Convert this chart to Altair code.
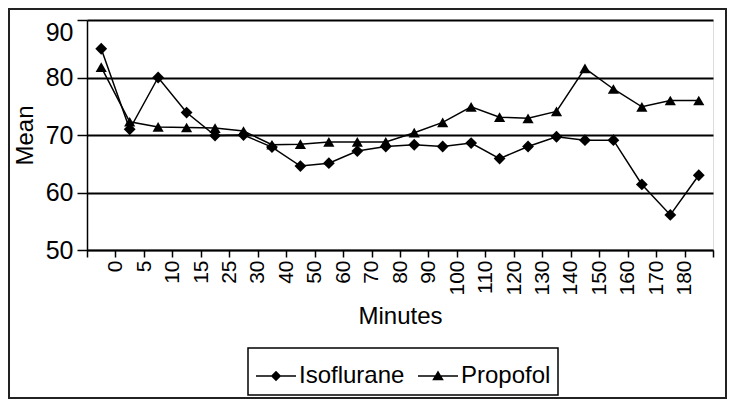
import altair as alt
import pandas as pd

# Category labels (first time point has no label in the original)
minutes = ["", "0", "5", "10", "15", "25", "30", "40", "50", "60", "70",
           "80", "90", "100", "110", "120", "130", "140", "150", "160", "170", "180"]
isoflurane = [85.0, 71.0, 80.0, 73.9, 69.9, 70.0, 67.9, 64.6, 65.1, 67.2, 68.0,
              68.3, 68.0, 68.6, 65.9, 68.0, 69.7, 69.1, 69.1, 61.4, 56.1, 63.0]
propofol = [81.8, 72.3, 71.4, 71.3, 71.2, 70.7, 68.3, 68.4, 68.8, 68.8, 68.8,
            70.4, 72.2, 74.9, 73.1, 72.9, 74.1, 81.6, 78.0, 74.9, 76.0, 76.0]
series_names = ["Isoflurane", "Propofol"]
y_ticks = [50, 60, 70, 80, 90]

FONT = "Liberation Sans"

df = pd.DataFrame({
    "Minutes": minutes * 2,
    "Mean": isoflurane + propofol,
    "Series": [series_names[0]] * len(minutes) + [series_names[1]] * len(minutes),
})

x_enc = alt.X(
    "Minutes:O",
    sort=minutes,
    scale=alt.Scale(type="band", paddingInner=0, paddingOuter=0),
    axis=alt.Axis(
        title="Minutes", titleFont=FONT, titleFontSize=24, titleFontWeight="normal",
        titleColor="black", titlePadding=9,
        labelFont=FONT, labelFontSize=21, labelColor="black", labelAngle=270,
        labelOffset=-14, labelPadding=3,
        tickBand="extent", tickSize=7, tickColor="black", tickWidth=1.5,
        domainColor="black", domainWidth=1.5, grid=False,
    ),
)
y_enc = alt.Y(
    "Mean:Q",
    scale=alt.Scale(domain=[50, 90], nice=False, zero=False),
    axis=alt.Axis(
        title="Mean", titleFont=FONT, titleFontSize=24, titleFontWeight="normal",
        titleColor="black", titlePadding=8,
        values=y_ticks, labelFont=FONT, labelFontSize=25, labelColor="black",
        labelBaseline={"condition": {"test": "datum.value >= 90", "value": "top"},
                       "value": "middle"},
        labelPadding=4, tickSize=10, tickColor="black", tickWidth=1.5,
        domainColor="black", domainWidth=1.5,
        grid=True, gridColor="black", gridWidth=2, gridOpacity=1,
    ),
)

layers = []
for name, shape, size in [("Isoflurane", "diamond", 140), ("Propofol", "triangle-up", 125)]:
    sub = alt.Chart(df).transform_filter(alt.datum.Series == name)
    layers.append(sub.mark_line(color="black", strokeWidth=1.5).encode(x=x_enc, y=y_enc))
    layers.append(sub.mark_point(shape=shape, filled=True, color="black", size=size, opacity=1)
                  .encode(x=x_enc, y=y_enc))

# legend glyphs: a short line (thin filled bar) with the series marker
legend_paths = [
    "M-1,-0.04H1V0.04H-1ZM0,-0.26L0.26,0L0,0.26L-0.26,0Z",
    "M-1,-0.04H1V0.04H-1ZM0,-0.27L0.29,0.21L-0.29,0.21Z",
]
legend_layer = alt.Chart(df).mark_point(
    opacity=0, filled=True, color="black", size=1600,
).encode(
    x=x_enc, y=y_enc,
    shape=alt.Shape(
        "Series:N",
        scale=alt.Scale(domain=series_names, range=legend_paths),
        legend=alt.Legend(
            title=None, orient="none", legendX=161, legendY=328, direction="horizontal",
            strokeColor="black", padding=7, fillColor="white",
            labelFont=FONT, labelFontSize=24, labelColor="black", labelOffset=2,
            columnPadding=10, symbolSize=1600, symbolOpacity=1,
            symbolFillColor="black",
        ),
    ),
)

frame = alt.Chart(pd.DataFrame({"a": [0]})).mark_rect(
    filled=False, stroke="#222", strokeWidth=2
).encode(x=alt.value(-78), x2=alt.value(639), y=alt.value(-11), y2=alt.value(378))

chart = alt.layer(*layers, legend_layer, frame).properties(
    width=626, height=230,
    autosize=alt.AutoSizeParams(type="none"),
    padding={"left": 79, "top": 12, "right": 14, "bottom": 149},
).configure_view(stroke=None).configure(background="white").configure_legend(strokeWidth=1.5)

chart.save("out.html", embed_options={"renderer": "svg", "actions": False})
